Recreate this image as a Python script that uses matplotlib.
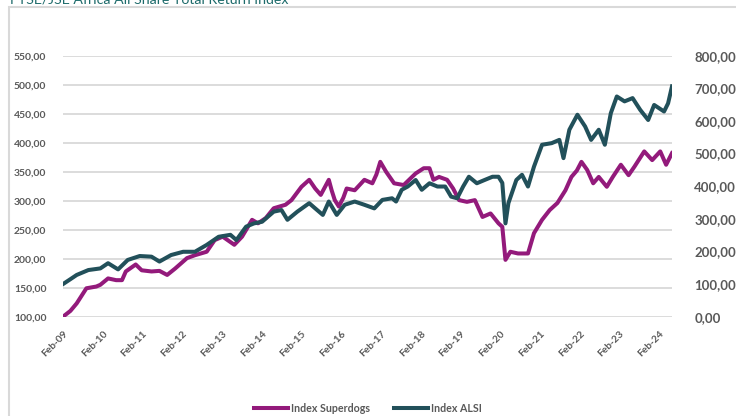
#!/usr/bin/env python
"""
Superdogs index vs ALSI total return index, Feb-09 to 2024.
"""

import numpy as np
import pandas as pd
import matplotlib
matplotlib.use("Agg")
import matplotlib.pyplot as plt
from matplotlib.patches import Rectangle
from matplotlib.ticker import FuncFormatter, MultipleLocator

title = "FTSE/JSE Africa All Share Total Return Index"
labels = ["Index Superdogs", "Index ALSI"]

superdogs_dates = [
    "2009-02-01", "2009-04-10", "2009-06-07", "2009-09-04", "2009-12-04",
    "2010-01-10", "2010-03-22", "2010-06-04", "2010-07-28", "2010-09-01",
    "2010-12-01", "2011-01-25", "2011-04-25", "2011-07-07", "2011-09-16",
    "2011-11-28", "2012-03-16", "2012-05-28", "2012-09-13", "2012-11-25",
    "2013-02-07", "2013-05-25", "2013-08-04", "2013-11-04", "2013-12-28",
    "2014-03-10", "2014-05-22", "2014-09-07", "2014-11-01", "2015-02-01",
    "2015-04-13", "2015-06-07", "2015-07-28", "2015-10-10", "2015-11-05",
    "2015-12-04", "2016-01-10", "2016-02-20", "2016-03-22", "2016-06-04",
    "2016-09-01", "2016-11-13", "2016-12-20", "2017-01-25", "2017-03-19",
    "2017-06-01", "2017-08-28", "2017-12-16", "2018-02-28", "2018-04-22",
    "2018-05-28", "2018-07-19", "2018-10-01", "2018-11-25", "2019-01-19",
    "2019-04-01", "2019-06-13", "2019-08-22", "2019-11-04", "2020-01-16",
    "2020-02-20", "2020-03-20", "2020-05-04", "2020-07-13", "2020-10-13",
    "2020-12-07", "2021-02-19", "2021-05-01", "2021-07-10", "2021-09-22",
    "2021-11-16", "2022-01-05", "2022-02-16", "2022-04-10", "2022-06-04",
    "2022-07-25", "2022-10-07", "2022-12-01", "2023-02-13", "2023-04-25",
    "2023-06-19", "2023-09-16", "2023-11-28", "2024-02-10", "2024-04-04",
    "2024-05-28",
]
superdogs_values = [
    100, 110, 123, 149, 152, 155, 166, 163, 163, 178,
    190, 180, 178, 179, 172, 183, 201, 206, 212, 232,
    238, 224, 238, 267, 261, 270, 287, 293, 301, 324,
    336, 321, 310, 336, 318, 301, 290, 305, 321, 318,
    336, 330, 345, 367, 350, 330, 327, 347, 356, 356,
    336, 341, 336, 321, 301, 298, 301, 272, 278, 261,
    255, 198, 212, 209, 209, 244, 267, 284, 296, 318,
    341, 352, 367, 353, 330, 341, 324, 341, 362, 344,
    359, 385, 370, 385, 362, 382,
]

alsi_dates = [
    "2009-02-01", "2009-04-10", "2009-06-07", "2009-09-22", "2010-01-10",
    "2010-03-22", "2010-06-22", "2010-09-19", "2011-01-07", "2011-04-25",
    "2011-07-07", "2011-10-22", "2012-02-10", "2012-05-28", "2012-09-13",
    "2013-01-01", "2013-04-19", "2013-06-13", "2013-09-10", "2013-11-22",
    "2014-02-04", "2014-05-22", "2014-08-01", "2014-09-25", "2014-12-25",
    "2015-04-13", "2015-06-07", "2015-08-16", "2015-10-10", "2015-12-22",
    "2016-03-04", "2016-06-04", "2016-09-01", "2016-12-01", "2017-02-13",
    "2017-05-13", "2017-06-19", "2017-08-10", "2017-10-04", "2017-12-16",
    "2018-02-10", "2018-04-22", "2018-07-04", "2018-09-13", "2018-11-07",
    "2019-01-01", "2019-02-25", "2019-04-19", "2019-07-01", "2019-09-10",
    "2019-11-22", "2020-01-16", "2020-02-20", "2020-03-20", "2020-04-16",
    "2020-06-28", "2020-08-19", "2020-10-13", "2020-12-07", "2021-02-19",
    "2021-05-19", "2021-07-28", "2021-09-04", "2021-10-28", "2022-01-10",
    "2022-03-22", "2022-05-16", "2022-07-25", "2022-09-19", "2022-11-13",
    "2023-01-07", "2023-03-19", "2023-06-01", "2023-08-10", "2023-10-22",
    "2023-12-16", "2024-03-16", "2024-04-22", "2024-05-28",
]
alsi_values = [
    100, 115, 128, 143, 148, 164, 145, 174, 186, 184,
    169, 189, 199, 199, 220, 245, 251, 235, 276, 286,
    291, 322, 327, 297, 322, 348, 332, 312, 353, 312,
    343, 353, 343, 332, 358, 363, 353, 389, 399, 419,
    389, 409, 399, 399, 368, 363, 399, 429, 409, 419,
    429, 429, 410, 286, 348, 419, 435, 399, 460, 527,
    532, 542, 486, 573, 619, 583, 542, 573, 527, 624,
    675, 660, 670, 634, 603, 649, 629, 654, 706,
]

tick_years = list(range(2009, 2025))
tick_labels = ["Feb-{:02d}".format(y % 100) for y in tick_years]

purple = "#931a7b"
teal = "#22505a"
grey_text = "#595959"


def comma_fmt(v, pos):
    return "{:.2f}".format(v).replace(".", ",")


if __name__ == "__main__":
    plt.rcParams["font.family"] = ["Lato", "DejaVu Sans"]

    fig = plt.figure(figsize=(7.36, 4.16), dpi=100)
    ax = fig.add_axes([63 / 736, 1 - 316.7 / 416, (672 - 63) / 736,
                       (316.7 - 55.7) / 416])
    ax2 = ax.twinx()

    sd_x = pd.to_datetime(superdogs_dates)
    al_x = pd.to_datetime(alsi_dates)

    l1, = ax.plot(sd_x, superdogs_values, color=purple, lw=2.9,
                  solid_joinstyle="round", label=labels[0])
    l2, = ax2.plot(al_x, alsi_values, color=teal, lw=2.9,
                   solid_joinstyle="round", label=labels[1])

    ax.set_xlim(sd_x[0], sd_x[-1])
    ax.set_ylim(100, 550)
    ax2.set_ylim(0, 800)
    ax.yaxis.set_major_locator(MultipleLocator(50))
    ax2.yaxis.set_major_locator(MultipleLocator(100))
    ax.yaxis.set_major_formatter(FuncFormatter(comma_fmt))
    ax2.yaxis.set_major_formatter(FuncFormatter(comma_fmt))

    ax.grid(True, axis="y", color="#d9d9d9", lw=1.3)
    ax.set_axisbelow(True)
    for a in (ax, ax2):
        for s in a.spines.values():
            s.set_visible(False)
        a.tick_params(length=0)

    ax.set_xticks(pd.to_datetime(["{}-02-01".format(y) for y in tick_years]))
    ax.set_xticklabels(tick_labels, rotation=45, ha="right", va="top",
                       rotation_mode="anchor", fontsize=7.3, fontweight="bold",
                       color=grey_text)
    ax.tick_params(axis="x", pad=9)
    ax.tick_params(axis="y", labelsize=7.5, labelcolor=grey_text, pad=12)
    ax2.tick_params(axis="y", labelsize=9.5, labelcolor=grey_text, pad=16)
    for t in ax.get_yticklabels() + ax2.get_yticklabels():
        t.set_fontweight("bold")

    fig.legend(handles=[l1, l2], loc="center", bbox_to_anchor=(0.5, 1 - 408 / 416),
               ncol=2, frameon=False, handlelength=3.2,
               handletextpad=0.3, columnspacing=2.2,
               prop={"weight": "bold", "size": 7.7})
    for t in fig.legends[0].get_texts():
        t.set_color(grey_text)

    # title sits mostly above the top edge, as in the source screenshot
    fig.text(10 / 736, 1 - 3.5 / 416, title, color="#1d6b6b", fontsize=10.2,
             va="baseline", ha="left")
    fig.patches.append(Rectangle((9 / 736, -0.05), 1.0, 0.05 + 1 - 6.5 / 416,
                                 transform=fig.transFigure, fill=False,
                                 edgecolor="#d9d9d9", lw=1.5))

    fig.savefig("out.png", dpi=100)
